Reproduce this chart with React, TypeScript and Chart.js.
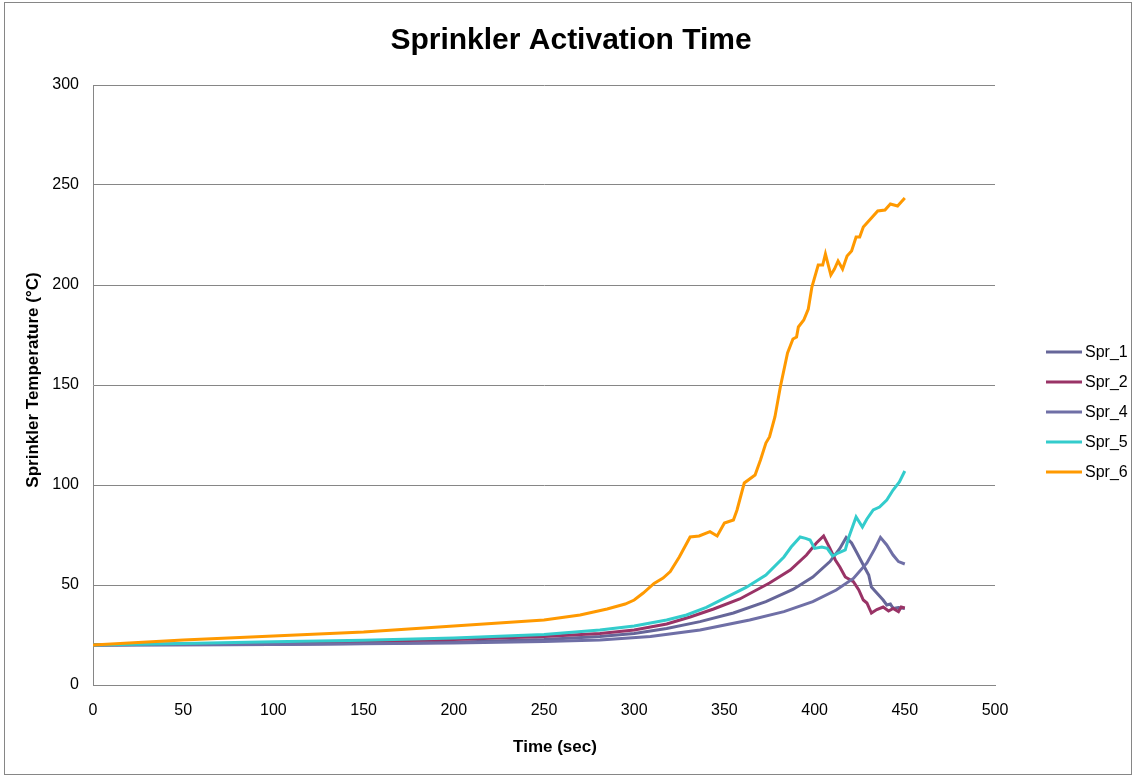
import React, { useEffect, useRef } from "react";
import { Chart, registerables } from "chart.js";

Chart.register(...registerables);

const seriesLabels = ["Spr_1", "Spr_2", "Spr_4", "Spr_5", "Spr_6"];
const seriesColors = ["#666699", "#993366", "#6F6FA6", "#33CCCC", "#FF9900"];

const xTicks = [0, 50, 100, 150, 200, 250, 300, 350, 400, 450, 500];
const yTicks = [0, 50, 100, 150, 200, 250, 300];

const spr1Time = [0, 100, 150, 200, 250, 281, 300, 318, 336.5, 355, 373, 388, 399, 408.5, 414, 417.5, 420.5, 423.5, 427, 430, 431.5, 434.5, 438, 440, 442, 443.5, 446.5, 450];
const spr1Temp = [20, 20.3, 20.7, 21.4, 22.7, 24.2, 25.8, 28.3, 31.7, 36, 41.7, 47.8, 54, 61.7, 68.3, 73.8, 71, 66, 60, 55, 49, 46, 42.5, 40, 40.5, 38.3, 38.8, 38.3];

const spr2Time = [0, 50, 100, 150, 200, 250, 281, 300, 318, 331, 344, 358.5, 375, 386.5, 395.5, 401, 405, 408.5, 411.5, 414, 417, 421.5, 424.5, 427, 429, 431.5, 434.5, 438, 441, 443.5, 446.5, 448, 450];
const spr2Temp = [20, 20.5, 21, 21.8, 22.8, 24.2, 25.8, 27.5, 30.5, 34, 38, 43, 51, 57.5, 65, 71, 74.5, 68.3, 62.5, 59, 54, 51.7, 47.5, 42.5, 41, 36, 37.7, 39, 37, 38.3, 36.7, 39, 38.5];

const spr4Time = [0, 100, 200, 250, 281, 309, 336.5, 364, 383, 399, 412, 421.5, 429, 433.5, 436.5, 440, 443.5, 446.5, 450];
const spr4Temp = [20, 20.2, 21, 21.8, 22.5, 24.2, 27.5, 32.5, 36.7, 41.7, 47.5, 53.3, 61, 68.3, 73.8, 70, 65, 61.7, 60.5];

const spr5Time = [0, 50, 100, 150, 200, 250, 281, 300, 318, 329, 340, 351, 362, 373, 383, 387, 392, 395, 397.5, 400, 404, 407, 410, 413, 417, 419, 423, 426.5, 429, 432.5, 436, 440, 443.5, 447, 450];
const spr5Temp = [20, 20.8, 21.6, 22.4, 23.5, 25.2, 27.5, 29.5, 32.5, 35, 38.8, 43.8, 48.8, 55, 64, 69, 74, 73.3, 72.5, 68.3, 69, 68.3, 64.5, 66, 67.5, 74, 84, 79, 83, 87.5, 89, 92.5, 97.5, 101.5, 107];

const spr6Time = [0, 25, 50, 100, 150, 200, 250, 270, 285, 295, 300, 305, 311, 316, 320, 325, 331, 336, 342, 346, 350, 355, 357, 361, 367, 370, 373, 375, 378, 381, 385, 388, 390, 391, 394, 396.5, 398.5, 402, 404.5, 406, 409, 411, 413, 415.5, 418, 420.5, 423, 425, 427, 431, 435, 439, 442, 446, 450];
const spr6Temp = [20, 21.3, 22.5, 24.5, 26.5, 29.5, 32.5, 35, 38, 40.5, 42.5, 46, 50.8, 53.5, 56.7, 64, 74, 74.5, 76.7, 74.5, 81, 82.5, 87.5, 101, 105, 112.5, 121, 124, 134, 149, 166, 173, 174, 179, 182.5, 188, 199, 210, 210, 215.5, 205, 208, 212, 208, 214.5, 217, 224, 224, 229, 233, 237, 237.5, 240.5, 239.5, 243.5];

const seriesTimes = [spr1Time, spr2Time, spr4Time, spr5Time, spr6Time];
const seriesTemps = [spr1Temp, spr2Temp, spr4Temp, spr5Temp, spr6Temp];

const FONT = "'Liberation Sans', Arial, sans-serif";

const overlayPlugin = {
  id: "overlay",
  afterDraw(chart: any) {
    const ctx = chart.ctx;
    ctx.save();
    // Title
    ctx.fillStyle = "#000";
    ctx.font = `bold 30px ${FONT}`;
    ctx.textAlign = "center";
    ctx.textBaseline = "middle";
    ctx.fillText("Sprinkler Activation Time", 571, 41);
    // X axis title
    ctx.font = `bold 17px ${FONT}`;
    ctx.fillText("Time (sec)", 555, 747);
    // Y axis title
    ctx.save();
    ctx.translate(33, 380);
    ctx.rotate(-Math.PI / 2);
    ctx.fillText("Sprinkler Temperature (°C)", 0, 0);
    ctx.restore();
    // Legend
    ctx.font = `16px ${FONT}`;
    ctx.textAlign = "left";
    seriesLabels.forEach((label, i) => {
      const y = 352 + i * 30;
      ctx.strokeStyle = seriesColors[i];
      ctx.lineWidth = 3;
      ctx.beginPath();
      ctx.moveTo(1046, y);
      ctx.lineTo(1082, y);
      ctx.stroke();
      ctx.fillStyle = "#000";
      ctx.fillText(label, 1085, y + 1);
    });
    ctx.restore();
  },
};

export default function App() {
  const canvasRef = useRef<HTMLCanvasElement | null>(null);

  useEffect(() => {
    if (!canvasRef.current) return;
    const datasets = seriesLabels.map((label, i) => ({
      label,
      data: seriesTimes[i].map((t, j) => ({ x: t, y: seriesTemps[i][j] })),
      borderColor: seriesColors[i],
      backgroundColor: seriesColors[i],
      borderWidth: 3,
      pointRadius: 0,
      tension: 0,
      fill: false,
      order: seriesLabels.length - i,
    }));
    const chart = new Chart(canvasRef.current, {
      type: "line",
      data: { datasets },
      options: {
        animation: false,
        responsive: false,
        maintainAspectRatio: false,
        layout: { padding: { left: 0, top: 85, right: 140, bottom: 0 } },
        plugins: {
          legend: { display: false },
          title: { display: false },
          tooltip: { enabled: false },
        },
        scales: {
          x: {
            type: "linear",
            min: 0,
            max: 500,
            afterBuildTicks: (scale: any) => {
              scale.ticks = xTicks.map((v) => ({ value: v }));
            },
            afterFit: (scale: any) => {
              scale.height = 93;
            },
            grid: { display: false, drawTicks: false },
            border: { display: true, color: "#868686", width: 1 },
            ticks: {
              color: "#000",
              font: { family: FONT, size: 16 },
              padding: 16,
              maxRotation: 0,
              autoSkip: false,
            },
          },
          y: {
            type: "linear",
            min: 0,
            max: 300,
            afterBuildTicks: (scale: any) => {
              scale.ticks = yTicks.map((v) => ({ value: v }));
            },
            afterFit: (scale: any) => {
              scale.width = 93;
            },
            grid: { color: "#868686", lineWidth: 1, drawTicks: false },
            border: { display: true, color: "#868686", width: 1 },
            ticks: {
              color: "#000",
              font: { family: FONT, size: 16 },
              padding: 14,
              autoSkip: false,
            },
          },
        },
      },
      plugins: [overlayPlugin],
    });
    return () => chart.destroy();
  }, []);

  return (
    <div style={{ position: "absolute", left: 0, top: 0, width: 1135, height: 778, background: "#fff" }}>
      <div
        style={{
          position: "absolute",
          left: 4,
          top: 2,
          width: 1128,
          height: 773,
          border: "1px solid #868686",
          boxSizing: "border-box",
        }}
      />
      <canvas ref={canvasRef} width={1135} height={778} style={{ position: "absolute", left: 0, top: 0 }} />
    </div>
  );
}
